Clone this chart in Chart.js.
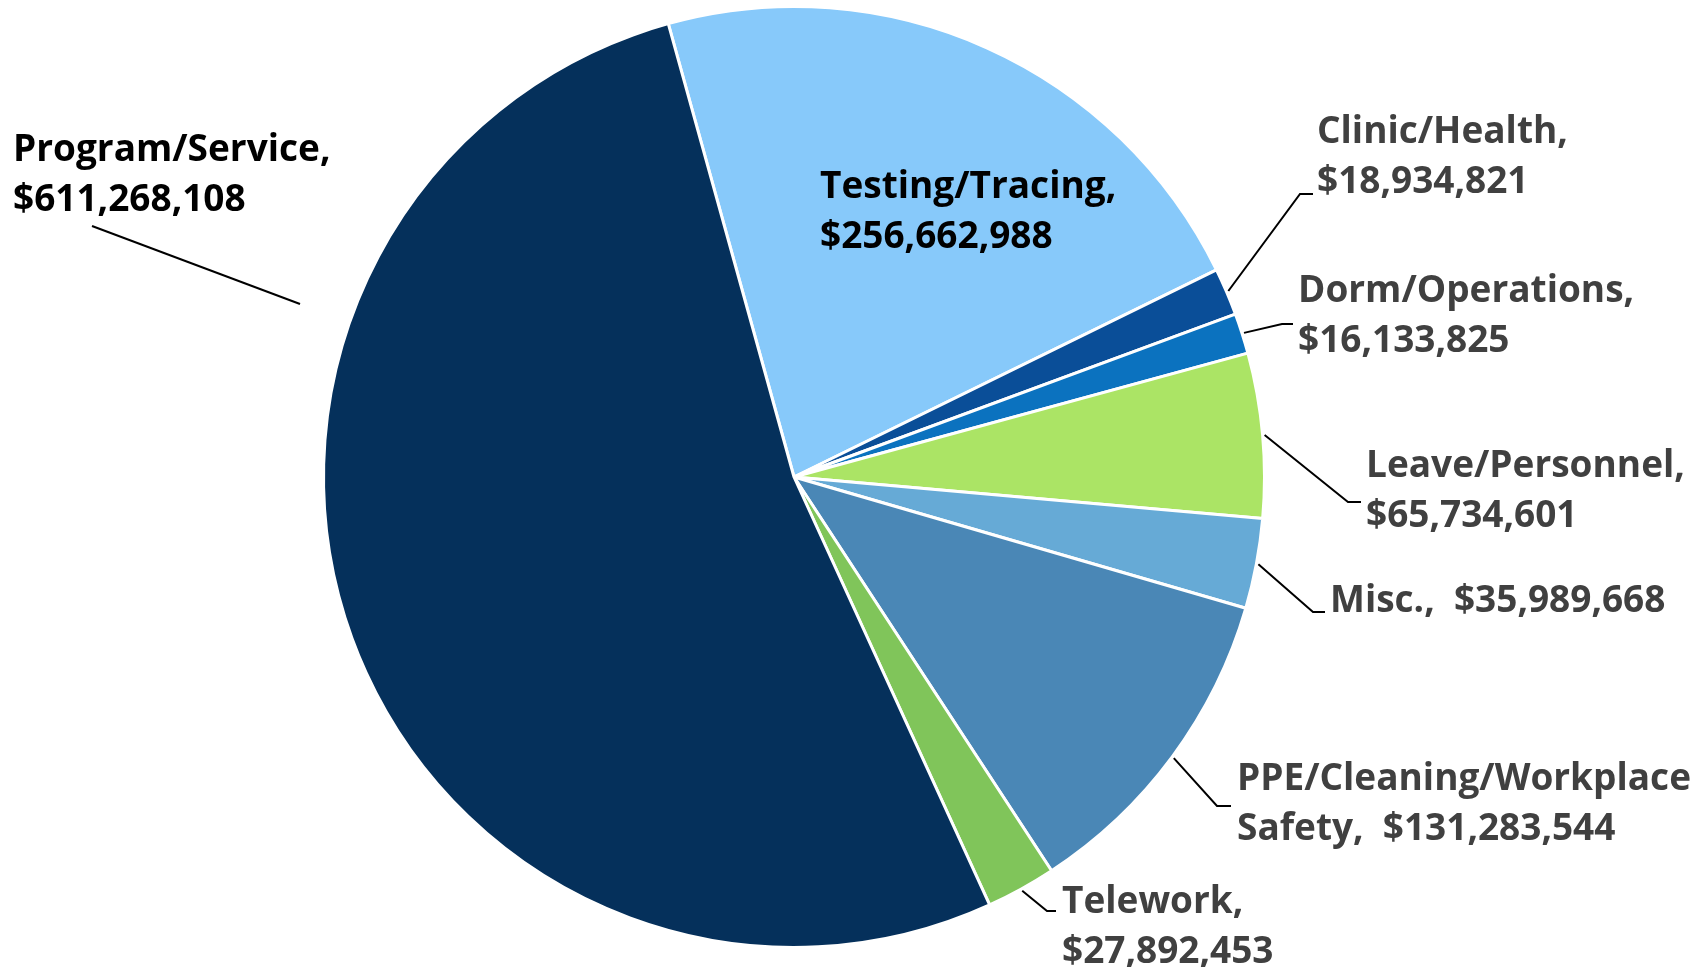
<!DOCTYPE html>
<html>
<head>
<meta charset="utf-8">
<script src="https://cdn.jsdelivr.net/npm/chart.js@4.4.1/dist/chart.umd.min.js"></script>
<style>
  html, body { margin: 0; padding: 0; background: #ffffff; }
  #wrap { width: 1704px; height: 967px; position: relative; }
  canvas { display: block; }
</style>
</head>
<body>
<div id="wrap"><canvas id="c" width="1704" height="967"></canvas></div>
<script>
// ---- data ----
const categories = ["Testing/Tracing", "Clinic/Health", "Dorm/Operations", "Leave/Personnel", "Misc.", "PPE/Cleaning/Workplace Safety", "Telework", "Program/Service"];
const amounts = [256662988, 18934821, 16133825, 65734601, 35989668, 131283544, 27892453, 611268108];
const labelLines = [
  ["Testing/Tracing,", "$256,662,988"],
  ["Clinic/Health,", "$18,934,821"],
  ["Dorm/Operations,", "$16,133,825"],
  ["Leave/Personnel,", "$65,734,601"],
  ["Misc.,  $35,989,668"],
  ["PPE/Cleaning/Workplace", "Safety,  $131,283,544"],
  ["Telework,", "$27,892,453"],
  ["Program/Service,", "$611,268,108"]
];
const sliceColors = ["#87C9FA", "#0A4E98", "#0B72BF", "#ABE465", "#66AAD6", "#4A87B6", "#80C55A", "#05305B"];

// ---- label layout (positions only) ----
const labelLayout = [
  { x: 820, y: 198, color: "#000000", leader: null },
  { x: 1317, y: 143, color: "#404040", leader: { elbow: [1300, 194], endX: 1313 } },
  { x: 1298, y: 302, color: "#404040", leader: { elbow: [1282, 324], endX: 1293 } },
  { x: 1366, y: 477, color: "#404040", leader: { elbow: [1348, 502], endX: 1361 } },
  { x: 1330, y: 612, color: "#404040", leader: { elbow: [1313, 612], endX: 1325 } },
  { x: 1237, y: 790, color: "#404040", fitWidth: 454, leader: { elbow: [1217, 806], endX: 1231 } },
  { x: 1062, y: 913, color: "#404040", leader: { elbow: [1047, 911], endX: 1056 } },
  { x: 13, y: 161, color: "#000000", leader: { free: [[92, 226], [300, 304]] } }
];
const FONT = "bold 37px 'Open Sans'";
const LINE_H = 50;

const labelPlugin = {
  id: 'pieLabels',
  afterDatasetsDraw(chart) {
    const ctx = chart.ctx;
    const meta = chart.getDatasetMeta(0);
    ctx.save();
    meta.data.forEach((arc, i) => {
      const lay = labelLayout[i];
      const p = arc.getProps(['x', 'y', 'startAngle', 'endAngle', 'outerRadius'], true);
      if (lay.leader) {
        ctx.beginPath();
        ctx.strokeStyle = "#000000";
        ctx.lineWidth = 2;
        if (lay.leader.free) {
          const pts = lay.leader.free;
          ctx.moveTo(pts[0][0], pts[0][1]);
          ctx.lineTo(pts[1][0], pts[1][1]);
        } else {
          const mid = (p.startAngle + p.endAngle) / 2;
          const r = p.outerRadius + 2;
          const sx = p.x + Math.cos(mid) * r;
          const sy = p.y + Math.sin(mid) * r;
          ctx.moveTo(sx, sy);
          ctx.lineTo(lay.leader.elbow[0], lay.leader.elbow[1]);
          ctx.lineTo(lay.leader.endX, lay.leader.elbow[1]);
        }
        ctx.stroke();
      }
      ctx.font = FONT;
      ctx.fillStyle = lay.color;
      ctx.textAlign = 'left';
      ctx.textBaseline = 'alphabetic';
      const lines = labelLines[i];
      let sxScale = 1;
      if (lay.fitWidth) {
        const w = ctx.measureText(lines[0]).width;
        sxScale = lay.fitWidth / w;
      }
      ctx.save();
      ctx.translate(lay.x, 0);
      ctx.scale(sxScale, 1);
      lines.forEach((t, k) => {
        ctx.fillText(t, 0, lay.y + k * LINE_H);
      });
      ctx.restore();
    });
    ctx.restore();
  }
};

document.fonts.load(FONT).then(() => {
  new Chart(document.getElementById('c'), {
    type: 'pie',
    data: {
      labels: categories,
      datasets: [{
        data: amounts,
        backgroundColor: sliceColors,
        borderColor: '#ffffff',
        borderWidth: 3
      }]
    },
    options: {
      responsive: false,
      devicePixelRatio: 1,
      animation: false,
      rotation: -15.5,
      layout: { padding: { left: 322, top: 5, right: 438, bottom: 18 } },
      plugins: {
        legend: { display: false },
        tooltip: { enabled: false }
      }
    },
    plugins: [labelPlugin]
  });
});
</script>
</body>
</html>
